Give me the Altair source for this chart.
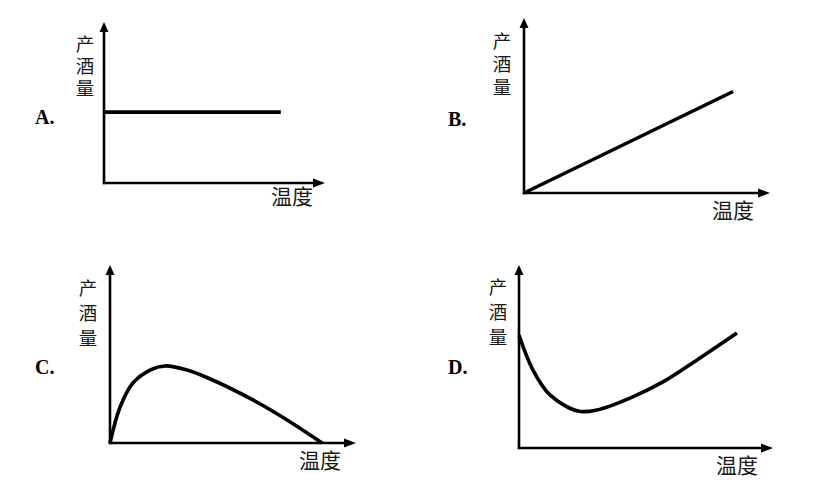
import altair as alt
import pandas as pd

# ---------------- data (temperature / yield in relative units 0-100 of each axis) ----
panels = ["A", "B", "C", "D"]
letters = ["A.", "B.", "C.", "D."]
y_title = ["产", "酒", "量"]
x_title = "温度"

temp_A = [0, 80]
yield_A = [44, 44]
temp_B = [0, 85]
yield_B = [0, 58]
temp_C = [0, 4.1, 9.3, 16.3, 22.4, 31.3, 39.4, 58.1, 72.0, 86.2]
yield_C = [0, 20.2, 33.7, 41.0, 43.3, 41.0, 36.8, 24.2, 12.9, 0]
temp_D = [0, 5.5, 12.2, 23.2, 30.7, 43.7, 56.7, 70.1, 85.8]
yield_D = [61.7, 42.6, 29.0, 20.2, 20.8, 27.3, 36.1, 48.1, 62.8]

series = {"A": (temp_A, yield_A), "B": (temp_B, yield_B),
          "C": (temp_C, yield_C), "D": (temp_D, yield_D)}

# ---------------- layout (page pixels) ----------------
LAYOUT = {
    "A": dict(ox=104, oy=183, xt=325, yt=22, lx=35, ly=118, yx=85, yy=45, ys=22, tx=292, ty=198),
    "B": dict(ox=524, oy=193, xt=770, yt=18, lx=448, ly=120, yx=502, yy=42, ys=23, tx=733, ty=212),
    "C": dict(ox=110, oy=443, xt=356, yt=265, lx=35, ly=368, yx=88, yy=289, ys=25, tx=320, ty=462),
    "D": dict(ox=519, oy=448, xt=773, yt=265, lx=448, ly=368, yx=498, yy=288, ys=25, tx=737, ty=467),
}
W, H = 816, 474
XS = alt.Scale(domain=[8, 8 + W], nice=False, zero=False)
YS = alt.Scale(domain=[8, 8 + H], nice=False, zero=False, reverse=True)

curve_rows, vrules, hrules, up_heads, right_heads = [], [], [], [], []
letter_rows, ytitle_rows, xtitle_rows = [], [], []
for p, lab in zip(panels, letters):
    L = LAYOUT[p]
    ts, ys = series[p]
    for i, (t, v) in enumerate(zip(ts, ys)):
        curve_rows.append(dict(panel=p, i=i,
                               x=L["ox"] + t / 100 * (L["xt"] - L["ox"]),
                               y=L["oy"] - v / 100 * (L["oy"] - L["yt"])))
    vrules.append(dict(x=L["ox"], y=L["oy"] + 1.2, x2=L["ox"], y2=L["yt"] + 8))
    hrules.append(dict(x=L["ox"] - 1.2, y=L["oy"], x2=L["xt"] - 10, y2=L["oy"]))
    up_heads.append(dict(x=L["ox"], y=L["yt"] + 5))
    right_heads.append(dict(x=L["xt"] - 6, y=L["oy"]))
    letter_rows.append(dict(x=L["lx"], y=L["ly"], t=lab))
    for k, ch in enumerate(y_title):
        ytitle_rows.append(dict(x=L["yx"], y=L["yy"] + k * L["ys"], t=ch))
    xtitle_rows.append(dict(x=L["tx"], y=L["ty"], t=x_title))

curves = pd.DataFrame(curve_rows)
enc_xy = dict(x=alt.X("x:Q", scale=XS, axis=None), y=alt.Y("y:Q", scale=YS, axis=None))

curve_layer = alt.Chart(curves).mark_line(
    color="black", strokeWidth=3.6, interpolate="catmull-rom", strokeCap="butt"
).encode(detail="panel:N", order="i:Q", **enc_xy)

vrule_layer = alt.Chart(pd.DataFrame(vrules)).mark_rule(color="black", strokeWidth=2.6).encode(
    x2="x2:Q", y2="y2:Q", **enc_xy)
hrule_layer = alt.Chart(pd.DataFrame(hrules)).mark_rule(color="black", strokeWidth=2.6).encode(
    x2="x2:Q", y2="y2:Q", **enc_xy)

up_layer = alt.Chart(pd.DataFrame(up_heads)).mark_point(
    shape="M-0.9,1L0,-1L0.9,1Z", size=100, filled=True, color="black", opacity=1, strokeWidth=0
).encode(**enc_xy)
right_layer = alt.Chart(pd.DataFrame(right_heads)).mark_point(
    shape="M-1,-0.75L1,0L-1,0.75Z", size=144, filled=True, color="black", opacity=1, strokeWidth=0
).encode(**enc_xy)

letter_layer = alt.Chart(pd.DataFrame(letter_rows)).mark_text(
    font="Liberation Serif", fontWeight="bold", fontSize=20, align="left", baseline="middle",
    color="black"
).encode(text="t:N", **enc_xy)

ytitle_layer = alt.Chart(pd.DataFrame(ytitle_rows)).mark_text(
    font="Noto Sans CJK SC", fontSize=18.5, align="center", baseline="middle", color="#1a1a1a"
).encode(text="t:N", **enc_xy)

xtitle_layer = alt.Chart(pd.DataFrame(xtitle_rows)).mark_text(
    font="Noto Sans CJK SC", fontSize=21, align="center", baseline="middle", color="#1a1a1a"
).encode(text="t:N", **enc_xy)

chart = alt.layer(
    vrule_layer, hrule_layer, up_layer, right_layer, curve_layer,
    letter_layer, ytitle_layer, xtitle_layer
).properties(
    width=W, height=H, autosize=alt.AutoSizeParams(type="none"), padding=0,
    background="white"
).configure_view(stroke=None)

chart.save("out.html", embed_options={"renderer": "svg", "actions": False})
